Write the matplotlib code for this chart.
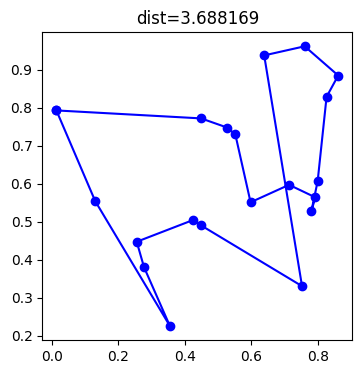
import matplotlib
matplotlib.use("Agg")
import matplotlib.pyplot as plt

# tour order (closed loop, first city repeated at the end)
xs = [0.013, 0.449, 0.527, 0.552, 0.598, 0.714, 0.793, 0.781, 0.800, 0.827,
      0.862, 0.761, 0.639, 0.753, 0.449, 0.424, 0.255, 0.277, 0.355, 0.130, 0.013]
ys = [0.793, 0.772, 0.748, 0.730, 0.551, 0.597, 0.564, 0.527, 0.606, 0.829,
      0.885, 0.962, 0.938, 0.330, 0.490, 0.504, 0.447, 0.380, 0.225, 0.554, 0.793]
dist = 3.688169

fig = plt.figure(figsize=(3.61, 3.74), dpi=100)
ax = fig.add_axes([42.3 / 361, 34 / 374, 310 / 361, 307.7 / 374])
ax.plot(xs, ys, "bo-")
ax.set_title(f"dist={dist:f}")

fig.savefig("out.png", dpi=100)
